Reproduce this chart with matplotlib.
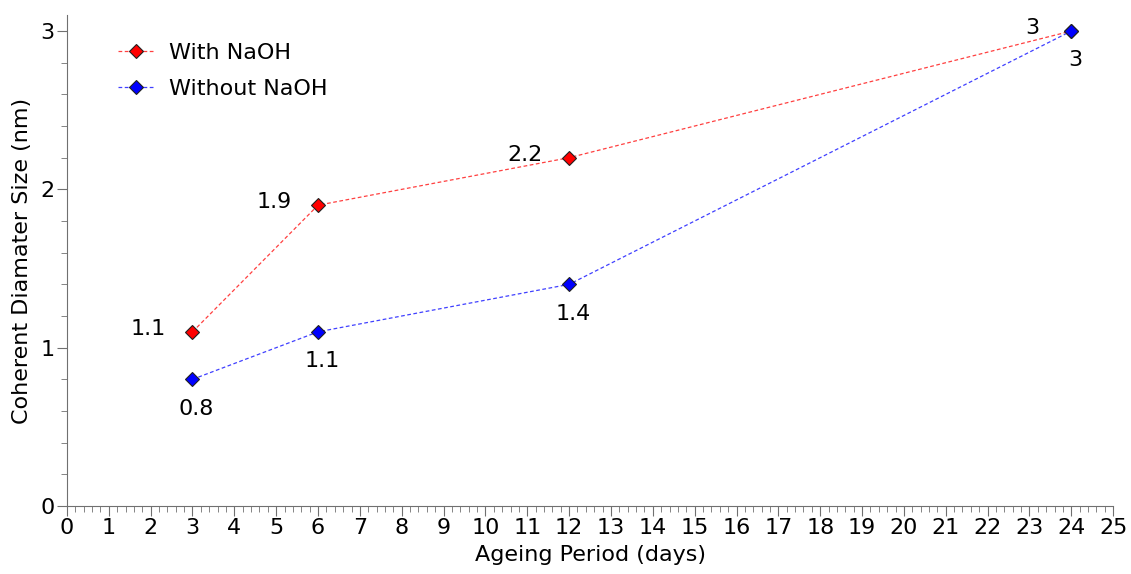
import matplotlib.pyplot as plt
from matplotlib.ticker import MultipleLocator

# datos
dias = [3, 6, 12, 24]
con_naoh = [1.1, 1.9, 2.2, 3]
sin_naoh = [0.8, 1.1, 1.4, 3]
etiquetas_con = ['1.1', '1.9', '2.2', '3']
etiquetas_sin = ['0.8', '1.1', '1.4', '3']

plt.rcParams['font.family'] = ['DejaVu Sans']
FS = 16

fig = plt.figure(figsize=(11.31, 5.74), dpi=100)
ax = fig.add_axes([0.0592, 0.1185, 0.925, 0.855])

ax.plot(dias, con_naoh, color='#ff4040', ls=(0, (3, 2)), lw=0.9,
        marker='D', ms=7, mfc='red', mec='#202020', mew=0.8, label='With NaOH')
ax.plot(dias, sin_naoh, color='#4040ff', ls=(0, (3, 2)), lw=0.9,
        marker='D', ms=7, mfc='blue', mec='#202020', mew=0.8, label='Without NaOH')

for x, y, t in zip(dias, con_naoh, etiquetas_con):
    dx = -19 if t != '3' else -23
    ax.annotate(t, (x, y), xytext=(dx, 2), textcoords='offset points',
                ha='right', va='center', fontsize=FS)
for x, y, t in zip(dias, sin_naoh, etiquetas_sin):
    ax.annotate(t, (x, y), xytext=(3, -14), textcoords='offset points',
                ha='center', va='top', fontsize=FS)

ax.set_xlim(0, 25)
ax.set_ylim(0, 3.1)
ax.xaxis.set_major_locator(MultipleLocator(1))
ax.xaxis.set_minor_locator(MultipleLocator(0.2))
ax.yaxis.set_major_locator(MultipleLocator(1))
ax.yaxis.set_minor_locator(MultipleLocator(0.2))

for s in ['top', 'right']:
    ax.spines[s].set_visible(False)
for s in ['left', 'bottom']:
    ax.spines[s].set_color('#707070')
ax.tick_params(which='major', length=7, color='#707070', labelsize=FS, pad=2)
ax.tick_params(which='minor', length=4, color='#707070')

ax.set_xlabel('Ageing Period (days)', fontsize=FS, labelpad=5)
ax.set_ylabel('Coherent Diamater Size (nm)', fontsize=FS, labelpad=6)

ax.legend(loc='upper left', bbox_to_anchor=(0.03, 0.985), frameon=False,
          fontsize=FS, handlelength=1.6, handletextpad=0.7, labelspacing=0.75)

fig.savefig('out.png', dpi=100)
